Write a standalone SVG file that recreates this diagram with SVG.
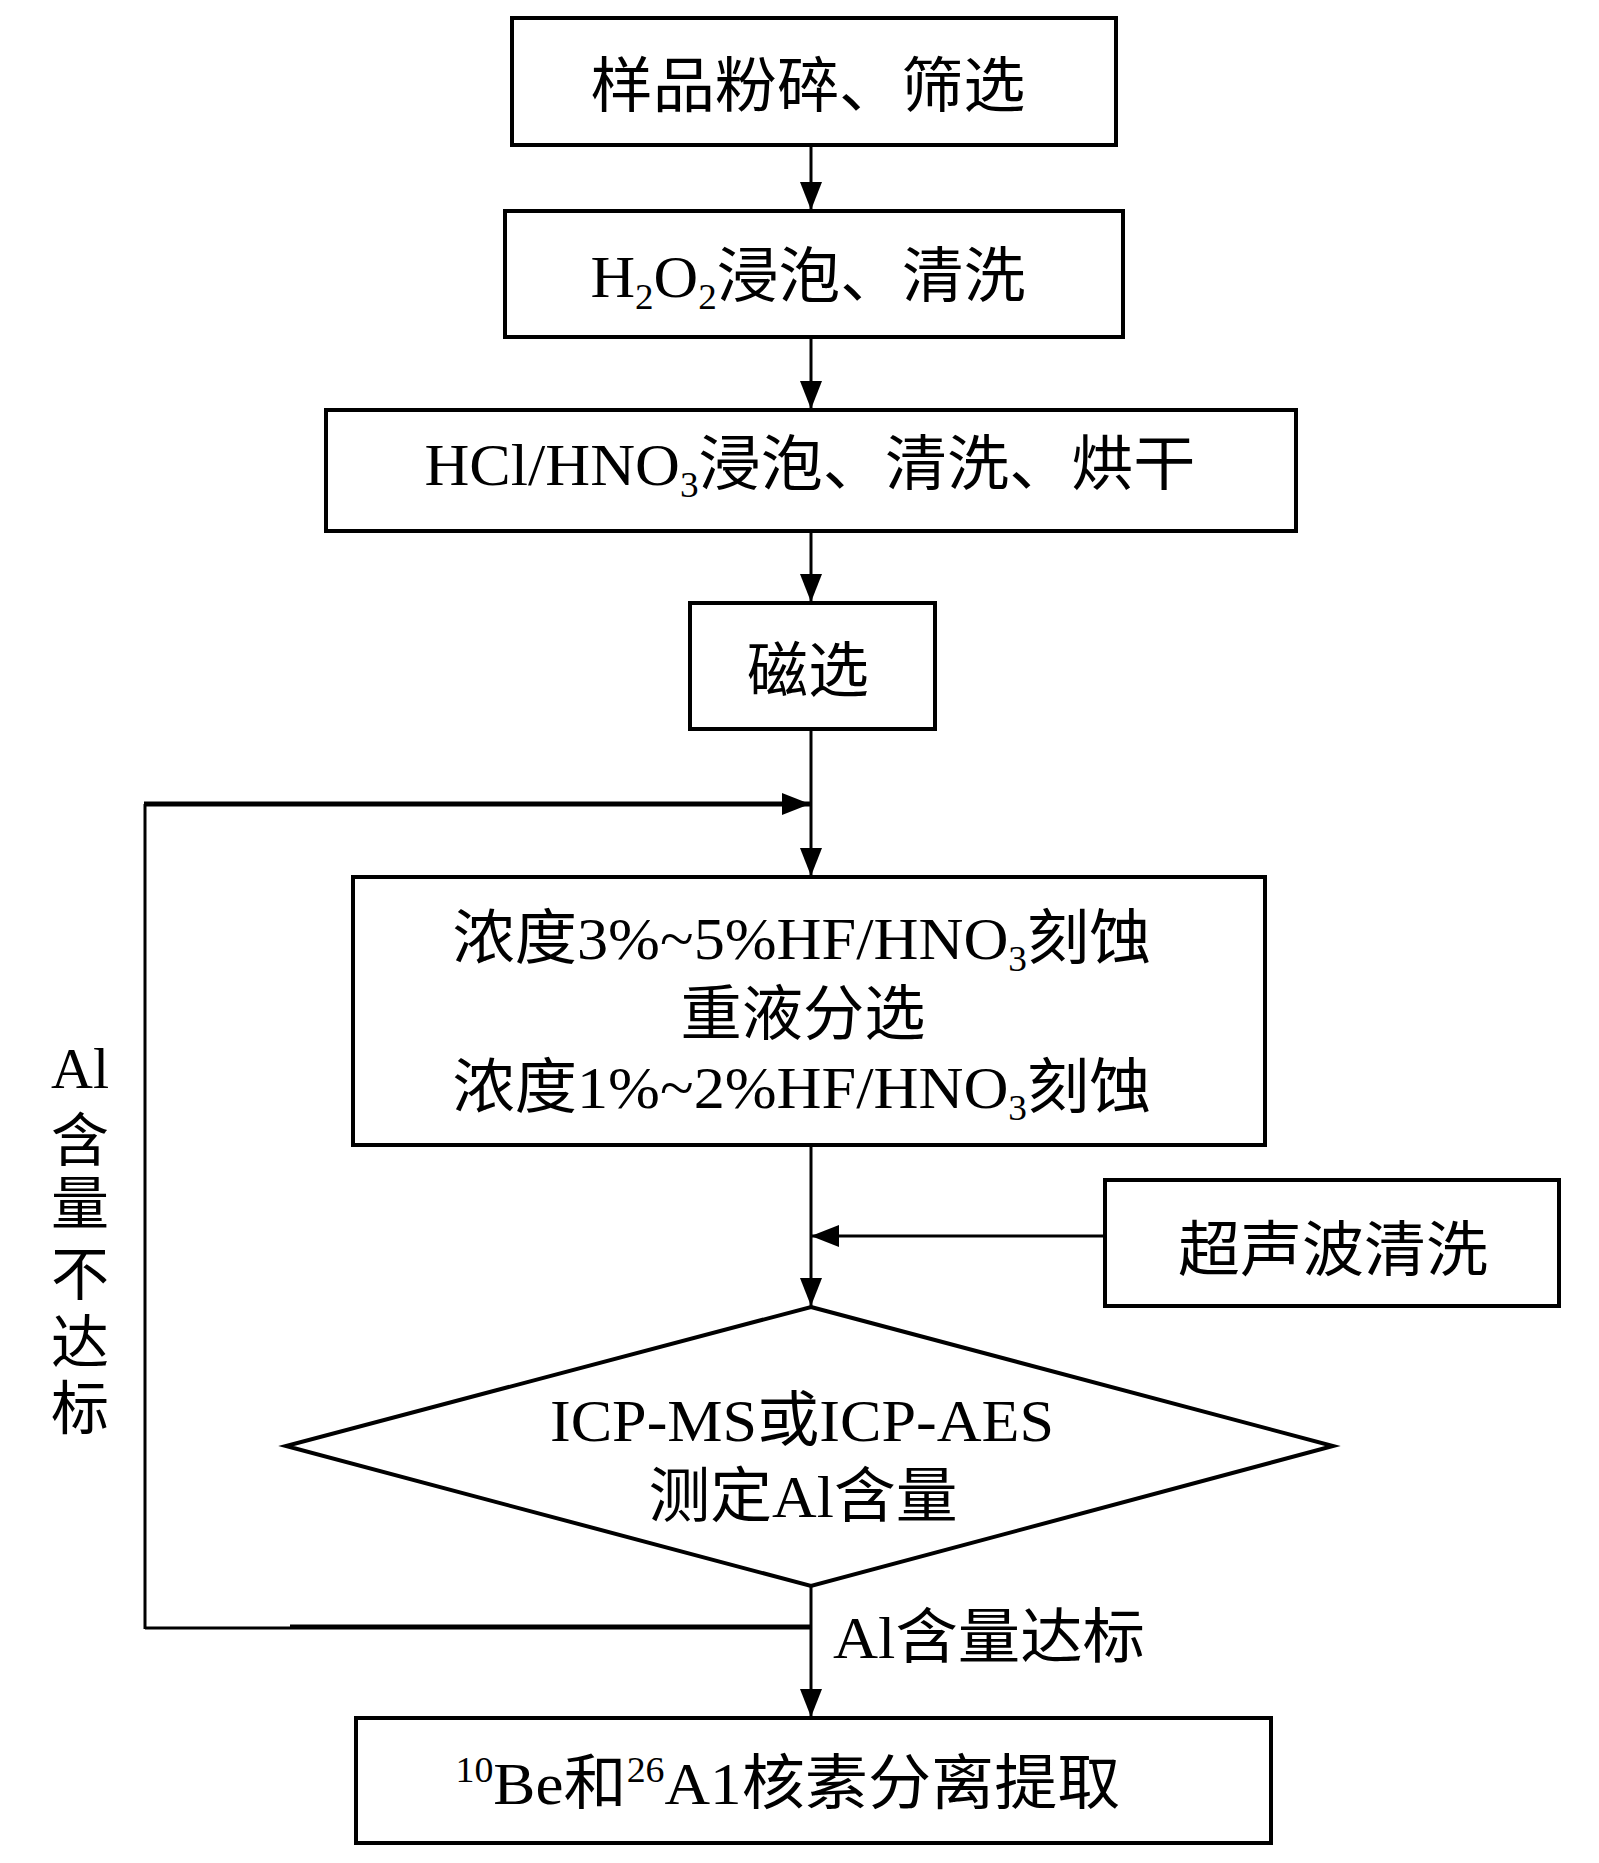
<svg xmlns="http://www.w3.org/2000/svg" width="1599" height="1863" viewBox="0 0 1599 1863">
<style>
.box{fill:#fff;stroke:#000;stroke-width:4}
.ln{fill:none;stroke:#000;stroke-width:3}
.thk{fill:none;stroke:#000;stroke-width:5}
text{font-family:"Liberation Serif","Noto Sans CJK SC",serif;font-size:60px;fill:#000}
.c{text-anchor:middle}
.sub{font-size:36px}
.lbl{font-size:58px;text-anchor:middle}
</style>
<defs>
<marker id="ah" markerUnits="userSpaceOnUse" markerWidth="30" markerHeight="24" refX="28" refY="12" orient="auto">
<path d="M0,1 L28,12 L0,23 Z" fill="#000"/>
</marker>
</defs>
<rect width="1599" height="1863" fill="#fff"/>
<g id="connectors">
<line class="ln" x1="811" y1="146" x2="811" y2="210" marker-end="url(#ah)"/>
<line class="ln" x1="811" y1="338" x2="811" y2="409" marker-end="url(#ah)"/>
<line class="ln" x1="811" y1="532" x2="811" y2="602" marker-end="url(#ah)"/>
<line class="ln" x1="811" y1="730" x2="811" y2="876" marker-end="url(#ah)"/>
<line class="ln" x1="811" y1="1146" x2="811" y2="1306" marker-end="url(#ah)"/>
<line class="ln" x1="1105" y1="1236" x2="811" y2="1236" marker-end="url(#ah)"/>
<line class="ln" x1="811" y1="1586" x2="811" y2="1717" marker-end="url(#ah)"/>
<line class="thk" x1="811" y1="1627" x2="290" y2="1627"/>
<line class="ln" x1="290" y1="1628" x2="145" y2="1628"/>
<line class="ln" x1="145" y1="1629" x2="145" y2="804"/>
<line class="thk" x1="144" y1="804" x2="810" y2="804" marker-end="url(#ah)"/>
<text x="833" y="1658" textLength="312" lengthAdjust="spacingAndGlyphs">Al含量达标</text>
<g id="label-fail">
<text class="lbl" x="80" y="1088">Al</text>
<text class="lbl" x="80" y="1161">含</text>
<text class="lbl" x="80" y="1224">量</text>
<text class="lbl" x="80" y="1295">不</text>
<text class="lbl" x="80" y="1363">达</text>
<text class="lbl" x="80" y="1429">标</text>
</g>
</g>
<g id="n1">
<rect class="box" x="512" y="18" width="604" height="127"/>
<text class="c" x="808" y="107" textLength="435" lengthAdjust="spacingAndGlyphs">样品粉碎、筛选</text>
</g>
<g id="n2">
<rect class="box" x="505" y="211" width="618" height="126"/>
<text class="c" x="808" y="297" textLength="435" lengthAdjust="spacingAndGlyphs">H<tspan class="sub" dy="12">2</tspan><tspan dy="-12">O</tspan><tspan class="sub" dy="12">2</tspan><tspan dy="-12">浸泡、清洗</tspan></text>
</g>
<g id="n3">
<rect class="box" x="326" y="410" width="970" height="121"/>
<text class="c" x="810" y="485" textLength="771" lengthAdjust="spacingAndGlyphs">HCl/HNO<tspan class="sub" dy="12">3</tspan><tspan dy="-12">浸泡、清洗、烘干</tspan></text>
</g>
<g id="n4">
<rect class="box" x="690" y="603" width="245" height="126"/>
<text class="c" x="808" y="692" textLength="122" lengthAdjust="spacingAndGlyphs">磁选</text>
</g>
<g id="n5">
<rect class="box" x="353" y="877" width="912" height="268"/>
<text class="c" x="802" y="959" textLength="699" lengthAdjust="spacingAndGlyphs">浓度3%~5%HF/HNO<tspan class="sub" dy="12">3</tspan><tspan dy="-12">刻蚀</tspan></text>
<text class="c" x="803" y="1035" textLength="245" lengthAdjust="spacingAndGlyphs">重液分选</text>
<text class="c" x="802" y="1108" textLength="699" lengthAdjust="spacingAndGlyphs">浓度1%~2%HF/HNO<tspan class="sub" dy="12">3</tspan><tspan dy="-12">刻蚀</tspan></text>
</g>
<g id="n6">
<rect class="box" x="1105" y="1180" width="454" height="126"/>
<text class="c" x="1333" y="1271" textLength="310" lengthAdjust="spacingAndGlyphs">超声波清洗</text>
</g>
<g id="n7">
<polygon class="box" points="811,1307 1333,1446 811,1586 286,1446"/>
<text class="c" x="802" y="1441" textLength="504" lengthAdjust="spacingAndGlyphs">ICP-MS或ICP-AES</text>
<text class="c" x="803" y="1517" textLength="309" lengthAdjust="spacingAndGlyphs">测定Al含量</text>
</g>
<g id="n8">
<rect class="box" x="356" y="1718" width="915" height="125"/>
<text class="c" x="788" y="1804" textLength="665" lengthAdjust="spacingAndGlyphs"><tspan class="sub" dy="-22">10</tspan><tspan dy="22">Be和</tspan><tspan class="sub" dy="-22">26</tspan><tspan dy="22">A1核素分离提取</tspan></text>
</g>
</svg>
